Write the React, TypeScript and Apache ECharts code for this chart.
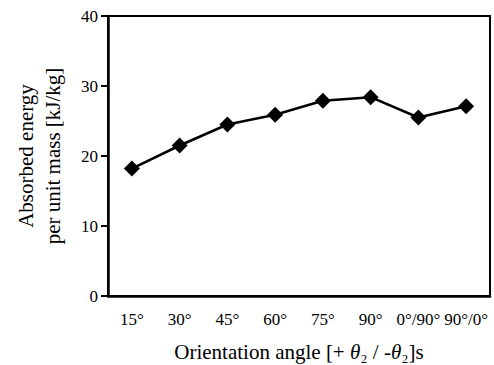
import React, { useEffect, useRef } from "react";
import * as echarts from "echarts";

const categories = ["15°", "30°", "45°", "60°", "75°", "90°", "0°/90°", "90°/0°"];
const absorbedEnergy = [18.2, 21.5, 24.5, 25.9, 27.9, 28.4, 25.5, 27.1];
const yTicks = [0, 10, 20, 30, 40];

export default function App() {
  const ref = useRef<HTMLDivElement>(null);
  useEffect(() => {
    if (!ref.current) return;
    const chart = echarts.init(ref.current, null, { renderer: "svg" });
    const font = "'Liberation Serif', 'Times New Roman', serif";
    chart.setOption({
      animation: false,
      backgroundColor: "#ffffff",
      grid: {
        left: 108,
        right: 4,
        top: 16,
        bottom: 69,
        show: true,
        borderColor: "#000",
        borderWidth: 2,
        containLabel: false,
        outerBoundsMode: "none",
      },
      xAxis: {
        type: "category",
        data: categories,
        boundaryGap: true,
        axisLine: { lineStyle: { color: "#000", width: 2.5 } },
        axisTick: { alignWithLabel: true, interval: 0, length: 7, lineStyle: { color: "#000", width: 2 } },
        axisLabel: { color: "#000", fontFamily: font, fontSize: 17, margin: 15, interval: 0 },
        name: "Orientation angle [+ {i|θ}₂ / -{i|θ}₂]s",
        nameLocation: "middle",
        nameGap: 45,
        nameTextStyle: {
          color: "#000",
          fontFamily: font,
          fontSize: 21,
          rich: { i: { fontStyle: "italic", fontFamily: font, fontSize: 21, color: "#000" } },
        },
        splitLine: { show: false },
      },
      yAxis: {
        type: "value",
        min: yTicks[0],
        max: yTicks[yTicks.length - 1],
        interval: 10,
        axisLine: { show: true, lineStyle: { color: "#000", width: 2.5 } },
        axisTick: { show: true, length: 7, lineStyle: { color: "#000", width: 2 } },
        axisLabel: { color: "#000", fontFamily: font, fontSize: 17, margin: 10 },
        splitLine: { show: false },
        name: "Absorbed energy\nper unit mass [kJ/kg]",
        nameLocation: "middle",
        nameGap: 42,
        nameRotate: 90,
        nameTextStyle: { color: "#000", fontFamily: font, fontSize: 21, lineHeight: 27 },
      },
      series: [
        {
          type: "line",
          data: absorbedEnergy,
          symbol: "diamond",
          symbolSize: 16,
          itemStyle: { color: "#000" },
          lineStyle: { color: "#000", width: 2.5 },
        },
      ],
    });
    return () => chart.dispose();
  }, []);
  return <div ref={ref} style={{ width: 494, height: 365, position: "absolute", left: 0, top: 0 }} />;
}
